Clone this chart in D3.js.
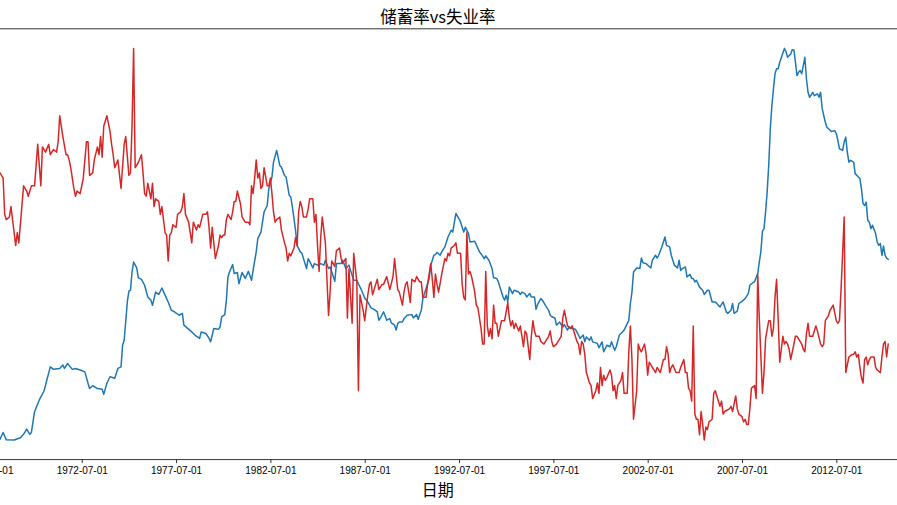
<!DOCTYPE html>
<html><head><meta charset="utf-8">
<script src="https://cdn.jsdelivr.net/npm/d3@7"></script>
<style>body{margin:0;background:#fff;overflow:hidden}</style>
</head><body><svg id="c" width="897" height="505"></svg>
<script>
// month index counted from 1967-07-01
const tickLabels = ["1967-07-01","1972-07-01","1977-07-01","1982-07-01","1987-07-01","1992-07-01","1997-07-01","2002-07-01","2007-07-01","2012-07-01"];
const tickMonths = [0,60,120,180,240,300,360,420,480,540];
const lastMonth = 573;

// unemployment (thousands) — [month index, value]
const unemploy = [[0,2940],[2,2960],[3,3140],[5,3020],[7,2880],[8,2710],[10,2930],[12,2690],[17,2685],[21,2760],[23,2870],[25,3040],[27,2870],[28,2930],[30,3600],[33,3980],[36,4270],[40,5050],[42,4970],[46,5000],[48,5110],[49,5000],[51,5160],[54,4970],[56,5000],[59,4950],[62,4890],[64,4520],[65,4350],[67,4440],[70,4350],[73,4330],[74,4160],[76,4520],[78,4730],[81,4680],[83,5000],[85,5050],[86,5750],[87,5910],[89,7150],[90,7500],[91,7530],[92,8120],[93,8440],[95,8250],[96,7930],[98,7880],[100,7690],[102,7310],[104,7210],[105,7040],[107,7470],[109,7390],[111,7600],[113,7370],[115,7150],[117,6880],[119,6830],[122,6720],[124,6780],[125,6400],[127,6310],[130,6180],[132,6080],[135,5970],[136,6180],[139,6130],[141,5970],[142,5860],[144,6290],[147,6270],[148,6340],[149,6670],[151,6740],[152,7200],[153,7960],[154,8120],[156,8360],[157,8070],[159,8100],[160,7740],[162,8100],[163,8010],[164,7910],[166,8140],[168,7850],[169,8170],[171,8770],[172,9200],[174,9410],[176,10060],[178,10270],[179,10810],[181,11190],[182,11670],[184,12050],[186,11560],[187,11510],[189,11240],[190,11190],[192,10600],[193,10540],[194,10220],[196,9470],[197,8980],[199,8770],[200,8730],[203,8230],[204,8550],[205,8460],[207,8250],[208,8390],[210,8340],[212,8390],[214,8340],[215,8500],[217,8230],[218,8280],[221,7820],[222,8390],[224,8390],[225,8390],[226,8500],[228,8230],[230,8340],[231,8170],[233,7850],[235,7850],[236,7740],[238,7530],[240,7280],[242,7150],[244,6960],[246,6910],[248,6830],[249,6560],[250,6630],[252,6830],[254,6560],[256,6610],[257,6470],[259,6400],[260,6240],[261,6450],[262,6500],[264,6500],[265,6610],[267,6720],[270,6740],[271,6630],[273,6740],[274,6590],[276,6880],[277,7260],[279,7580],[281,7910],[282,8340],[284,8660],[285,8680],[286,8750],[288,8660],[289,8770],[291,8930],[292,9090],[293,9250],[295,9470],[296,9410],[298,10010],[300,9840],[301,9730],[303,9410],[304,9570],[306,9360],[307,9090],[310,9110],[311,9000],[313,8770],[314,8710],[316,8550],[317,8640],[319,8500],[321,8230],[322,7930],[324,7910],[325,7800],[327,7470],[328,7310],[329,7210],[330,7370],[331,7150],[332,7630],[334,7420],[335,7530],[338,7470],[339,7390],[340,7470],[342,7420],[343,7310],[345,7420],[346,7310],[348,7310],[349,6910],[350,7070],[352,7260],[353,7210],[355,7040],[357,6880],[358,6720],[359,6670],[361,6630],[362,6400],[364,6500],[366,6340],[367,6420],[369,6240],[370,6340],[372,6290],[374,6270],[376,6080],[377,5970],[379,6080],[380,5860],[381,6020],[383,5910],[384,6020],[385,5860],[388,5810],[389,5670],[391,5860],[392,5540],[394,5750],[396,5700],[397,5860],[399,5590],[400,5700],[402,6080],[404,6180],[405,6240],[407,6450],[408,6560],[409,7100],[410,7470],[411,8120],[413,8250],[415,8230],[416,8570],[417,8420],[419,8390],[422,8250],[423,8500],[425,8660],[426,8570],[427,8660],[429,8930],[431,9250],[432,8980],[434,8930],[435,8660],[437,8340],[439,8250],[440,8500],[441,8170],[442,8230],[444,8280],[445,7960],[447,8040],[448,7910],[449,7910],[450,7800],[451,7850],[453,7630],[455,7530],[456,7390],[458,7530],[459,7530],[461,7150],[463,7150],[465,7040],[466,6990],[468,7150],[470,6830],[471,6780],[473,6880],[474,7100],[475,6780],[477,6850],[478,7100],[480,7170],[482,7260],[484,7420],[485,7690],[487,7780],[488,7800],[490,8070],[491,8440],[492,8770],[493,9430],[494,9520],[495,10060],[496,10700],[497,11560],[498,12750],[499,13500],[500,14040],[501,14530],[502,14690],[503,14690],[504,14900],[505,15050],[506,15200],[507,15350],[508,15250],[509,15060],[511,15170],[512,15310],[513,15300],[514,14900],[515,14470],[516,14580],[517,14630],[518,14530],[520,15060],[521,14360],[522,13930],[523,13770],[525,13930],[526,13820],[528,13880],[529,13770],[530,13930],[531,13400],[533,12960],[534,12800],[535,12750],[537,12660],[539,12690],[540,12590],[541,12370],[542,12100],[543,12080],[544,12050],[545,12320],[546,12480],[547,11990],[548,11670],[549,11730],[551,11670],[552,11300],[554,11190],[555,11140],[556,10810],[557,10330],[558,10270],[559,10380],[560,9790],[561,9730],[562,9520],[563,9630],[565,9360],[566,9090],[567,8980],[568,9040],[569,8660],[570,8960],[571,8660],[572,8570],[573,8530]];

// personal savings rate (%) — [month index, value]
const psavert = [[0,12.6],[4,12.8],[8,12.5],[10,12.3],[11,10.9],[12,10.7],[14,10.8],[15,11.2],[16,10.7],[18,9.7],[19,10.2],[20,9.8],[23,12.0],[25,11.8],[26,11.6],[28,12.0],[30,12.0],[32,13.6],[34,12.0],[35,13.5],[37,13.3],[39,13.6],[40,13.2],[42,13.4],[44,13.3],[45,13.7],[46,14.7],[48,13.9],[50,13.2],[51,13.2],[52,13.0],[53,12.7],[55,11.9],[56,11.6],[57,11.8],[59,11.7],[61,12.3],[63,13.7],[64,13.7],[65,12.4],[67,12.5],[68,13.0],[70,13.5],[71,13.2],[72,13.9],[73,13.1],[74,14.3],[76,14.7],[78,14.1],[79,13.6],[80,13.2],[81,12.7],[83,13.0],[85,11.9],[87,13.6],[88,13.9],[90,12.4],[91,12.5],[92,14.3],[93,17.3],[94,12.7],[96,12.9],[98,13.2],[99,12.5],[100,11.7],[101,11.6],[102,12.1],[104,11.5],[105,12.1],[106,11.2],[107,11.5],[109,11.4],[110,10.9],[111,11.2],[113,10.2],[114,10.1],[115,9.1],[116,10.1],[117,10.2],[118,10.5],[120,10.4],[121,10.9],[123,11.0],[124,11.2],[125,11.7],[126,10.9],[128,10.6],[130,9.8],[131,10.6],[133,10.3],[134,10.5],[135,10.4],[137,10.9],[139,10.9],[140,11.0],[141,10.4],[142,9.6],[143,10.4],[145,9.2],[147,9.7],[148,10.1],[149,10.0],[150,10.1],[151,10.1],[152,10.7],[153,10.9],[155,10.7],[156,11.0],[157,11.4],[158,11.4],[159,11.8],[161,11.3],[162,10.8],[163,10.7],[164,10.6],[166,10.6],[167,10.5],[168,12.0],[169,11.7],[170,12.3],[171,13.0],[172,12.3],[173,12.5],[174,11.9],[175,12.0],[176,12.7],[178,12.0],[179,12.0],[180,12.3],[181,11.7],[182,11.0],[183,10.6],[184,10.7],[186,10.8],[187,10.3],[189,9.8],[190,9.6],[191,9.1],[192,9.4],[193,9.3],[195,9.6],[196,10.0],[197,9.7],[198,11.0],[199,11.4],[200,11.2],[201,10.8],[203,10.8],[204,11.1],[205,11.5],[207,11.5],[208,10.6],[209,10.9],[210,9.7],[211,8.7],[212,10.0],[213,10.8],[215,9.8],[216,8.4],[217,7.0],[218,7.9],[219,9.1],[221,8.9],[222,9.5],[224,9.6],[225,9.2],[226,9.0],[228,9.2],[229,6.9],[230,8.8],[232,6.7],[233,9.4],[235,8.3],[236,4.1],[237,7.8],[239,7.2],[240,6.8],[242,7.8],[243,8.2],[244,8.3],[245,7.8],[247,8.2],[248,8.4],[249,8.0],[251,8.2],[252,8.2],[254,8.5],[256,8.0],[258,8.5],[259,9.2],[261,8.0],[262,7.9],[264,7.4],[265,7.9],[266,8.2],[267,8.3],[269,7.5],[270,8.4],[272,8.3],[273,8.5],[275,8.3],[276,8.3],[277,7.7],[279,7.7],[280,8.2],[282,9.0],[283,8.4],[284,7.7],[285,8.6],[286,8.2],[287,7.9],[289,8.6],[291,9.2],[292,9.1],[293,9.4],[294,9.3],[295,9.6],[297,9.7],[298,9.8],[299,9.4],[301,9.4],[302,8.2],[303,7.7],[304,7.6],[305,10.2],[306,8.6],[307,8.7],[308,8.5],[310,7.9],[311,7.4],[312,7.3],[314,6.5],[315,5.9],[316,5.9],[317,8.7],[318,6.6],[319,6.2],[320,6.5],[321,6.1],[322,7.4],[323,6.7],[324,6.7],[325,6.2],[326,6.5],[327,6.8],[328,6.8],[329,6.8],[331,7.5],[332,6.9],[333,6.6],[334,6.8],[335,6.5],[336,6.7],[338,6.4],[339,6.6],[340,6.2],[341,5.8],[342,6.4],[343,6.3],[345,5.3],[346,6.2],[347,6.8],[348,6.4],[349,6.2],[351,6.2],[352,6.0],[354,5.9],[355,6.0],[357,6.2],[358,6.4],[359,6.0],[360,5.8],[362,5.9],[363,6.0],[365,6.2],[366,6.9],[367,7.2],[368,6.9],[369,6.6],[371,6.5],[372,6.6],[374,6.2],[375,6.0],[376,5.9],[377,5.5],[378,6.0],[379,5.9],[380,5.5],[381,4.8],[382,4.6],[383,4.4],[384,4.3],[385,3.8],[387,4.1],[388,4.4],[389,4.0],[390,5.0],[391,4.3],[392,4.7],[393,4.5],[394,4.6],[396,4.9],[397,4.7],[398,4.1],[399,4.3],[400,3.8],[401,4.3],[403,4.5],[404,4.8],[405,4.0],[407,4.0],[408,5.6],[409,6.6],[410,5.3],[411,3.0],[413,4.1],[414,5.9],[415,5.7],[416,5.6],[418,5.9],[419,5.5],[420,4.7],[421,5.2],[423,5.0],[425,4.8],[426,5.0],[428,4.8],[430,5.3],[431,5.3],[432,5.8],[433,5.5],[434,4.8],[435,5.0],[436,5.1],[438,4.8],[440,4.8],[441,5.0],[443,5.3],[444,4.8],[445,4.8],[446,4.2],[447,4.1],[448,3.7],[449,6.6],[450,3.2],[451,3.0],[452,3.0],[453,2.4],[454,3.3],[455,2.8],[456,2.2],[457,2.7],[458,2.6],[459,2.9],[461,3.0],[462,4.0],[463,4.1],[464,3.9],[466,3.5],[467,3.7],[468,3.2],[469,3.3],[472,3.4],[473,3.5],[474,3.3],[476,3.9],[477,3.4],[478,3.2],[480,3.1],[481,2.9],[482,3.0],[483,2.8],[484,2.8],[485,3.4],[486,4.2],[488,4.3],[489,3.8],[490,8.6],[491,6.9],[493,4.0],[494,4.8],[495,6.1],[497,6.8],[498,6.8],[499,6.2],[500,6.5],[501,7.7],[502,8.4],[503,6.9],[504,5.2],[506,6.2],[507,5.9],[508,6.0],[509,5.9],[510,5.7],[511,5.3],[513,5.9],[514,6.2],[515,6.2],[516,6.1],[518,5.9],[519,5.7],[520,5.6],[521,6.3],[522,6.7],[523,6.2],[525,6.2],[526,6.4],[527,6.6],[528,6.4],[530,5.9],[531,5.8],[532,5.9],[533,6.8],[534,6.9],[535,7.0],[536,7.2],[537,7.3],[538,7.4],[540,6.8],[541,6.7],[542,6.8],[543,8.0],[544,9.4],[545,10.8],[546,4.8],[547,5.1],[548,5.4],[550,5.5],[551,5.5],[552,5.6],[553,5.4],[554,5.5],[555,5.0],[556,4.6],[557,4.4],[558,5.3],[559,5.4],[560,5.1],[561,5.3],[562,5.4],[564,5.4],[565,5.0],[566,4.9],[568,4.8],[569,5.4],[570,5.9],[571,6.0],[572,5.4],[573,5.9]];

const titleText = "储蓄率vs失业率";
const xLabelText = "日期";

// ---- layout ----
const W = 897, H = 505;
const plotTop = 28.8, plotBottom = 459.6;
const xFirst = -12.6, xLast = 888.2;   // pixel of first / last month
const pad = 0.05;

const svg = d3.select("#c");
svg.append("rect").attr("width", W).attr("height", H).attr("fill", "#fff");

const x = d3.scaleLinear().domain([0, lastMonth]).range([xFirst, xLast]);
const axLeft = x(-pad * lastMonth), axRight = x(lastMonth * (1 + pad));
const axCenter = (axLeft + axRight) / 2;

function paddedScale(series) {
  const [lo, hi] = d3.extent(series, d => d[1]);
  const s = hi - lo;
  return d3.scaleLinear().domain([lo - pad * s, hi + pad * s]).range([plotBottom, plotTop]);
}
const yU = paddedScale(unemploy);
const yS = paddedScale(psavert);

// spines (left/right are outside the window)
svg.append("line").attr("x1", axLeft).attr("x2", axRight).attr("y1", plotTop).attr("y2", plotTop)
  .attr("stroke", "#000").attr("stroke-width", 0.8);
svg.append("line").attr("x1", axLeft).attr("x2", axRight).attr("y1", plotBottom).attr("y2", plotBottom)
  .attr("stroke", "#000").attr("stroke-width", 0.8);

// x axis
const xAxis = d3.axisBottom(x).tickValues(tickMonths)
  .tickFormat((d, i) => tickLabels[i]).tickSize(3.5).tickPadding(3.5);
const gx = svg.append("g").attr("transform", `translate(0,${plotBottom})`).call(xAxis);
gx.select(".domain").remove();
gx.selectAll(".tick line").attr("stroke", "#000").attr("stroke-width", 0.8);
gx.selectAll(".tick text").attr("font-family", "'Liberation Sans', Arial, sans-serif")
  .attr("font-size", 10).attr("fill", "#000");

// lines
const lineU = d3.line().x(d => x(d[0])).y(d => yU(d[1]));
const lineS = d3.line().x(d => x(d[0])).y(d => yS(d[1]));
svg.append("path").datum(unemploy).attr("d", lineU).attr("fill", "none")
  .attr("stroke", "#1f77b4").attr("stroke-width", 1.5).attr("stroke-linejoin", "round").attr("stroke-linecap", "square");
svg.append("path").datum(psavert).attr("d", lineS).attr("fill", "none")
  .attr("stroke", "#d62728").attr("stroke-width", 1.5).attr("stroke-linejoin", "round").attr("stroke-linecap", "square");

// title and x label
svg.append("text").attr("x", axCenter).attr("y", 23).attr("text-anchor", "middle")
  .attr("font-family", "'Noto Sans CJK SC', sans-serif").attr("font-size", 16.5).attr("fill", "#000")
  .text(titleText);
svg.append("text").attr("x", axCenter).attr("y", 496).attr("text-anchor", "middle")
  .attr("font-family", "'Noto Sans CJK SC', sans-serif").attr("font-size", 16).attr("fill", "#000")
  .text(xLabelText);
</script>
</body></html>
